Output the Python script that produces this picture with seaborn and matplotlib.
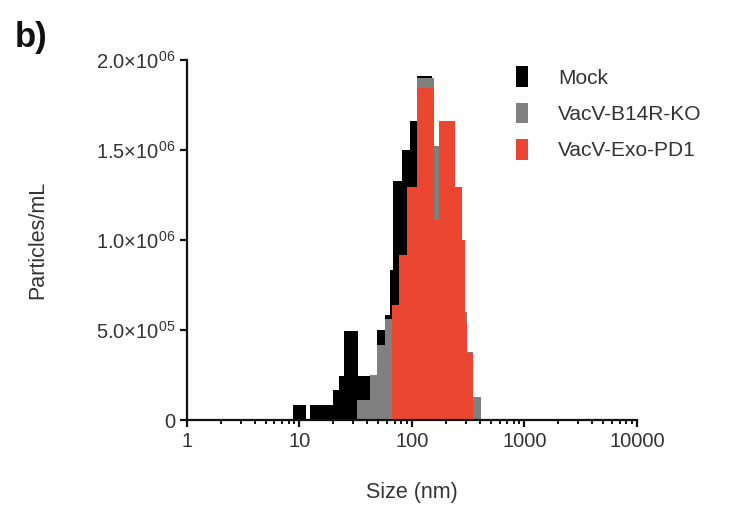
import numpy as np
import seaborn as sns
import matplotlib.pyplot as plt
from matplotlib.patches import Patch
from matplotlib.ticker import FixedLocator, FixedFormatter, LogLocator, NullFormatter

# particle size histograms (bin edges in nm, particles/mL per bin)
mock_edges = [8.8, 11.5, 12.45, 20.0, 22.6, 25.0, 33.3, 42.6, 49.2, 58.0, 64.2,
              68.3, 82.0, 97.0, 112.0, 152.0, 175.0, 243.0, 281.0, 311.0, 352.0]
mock_counts = [83e3, 0, 83e3, 167e3, 244e3, 496e3, 244e3, 244e3, 500e3, 583e3,
               833e3, 1.33e6, 1.5e6, 1.66e6, 1.91e6, 1.45e6, 1.3e6, 0.9e6, 0.5e6, 0.2e6]

ko_edges = [32.4, 42.6, 49.2, 58.0, 66.5, 76.5, 91.0, 111.7, 158.0, 175.0,
            243.0, 281.0, 299.0, 311.0, 352.0, 407.0]
ko_counts = [110e3, 250e3, 420e3, 560e3, 620e3, 900e3, 1.25e6, 1.9e6, 1.52e6,
             1.55e6, 1.2e6, 1.0e6, 0.6e6, 0.38e6, 130e3]

pd1_edges = [66.5, 76.5, 91.0, 111.7, 158.0, 175.0, 243.0, 281.0, 299.0, 311.0, 352.0]
pd1_counts = [640e3, 917e3, 1.296e6, 1.843e6, 1.11e6, 1.66e6, 1.296e6, 1.0e6, 546e3, 372e3]

labels = ["Mock", "VacV-B14R-KO", "VacV-Exo-PD1"]
colors = ["#000000", "#808080", "#EB4631"]

y_ticks = [0, 5e5, 1e6, 1.5e6, 2e6]
y_ticklabels = ["0", "5.0\u00d710$^{\\mathregular{05}}$", "1.0\u00d710$^{\\mathregular{06}}$",
                "1.5\u00d710$^{\\mathregular{06}}$", "2.0\u00d710$^{\\mathregular{06}}$"]
x_ticks = [1, 10, 100, 1000, 10000]
x_ticklabels = ["1", "10", "100", "1000", "10000"]

sns.set_style("ticks")
plt.rcParams['font.family'] = ['Liberation Sans', 'DejaVu Sans']
plt.rcParams['mathtext.fontset'] = 'custom'
plt.rcParams['mathtext.rm'] = 'Liberation Sans'
plt.rcParams['mathtext.it'] = 'Liberation Sans:italic'
plt.rcParams['mathtext.bf'] = 'Liberation Sans:bold'

fig = plt.figure(figsize=(7.33, 5.13), dpi=100)
ax = fig.add_axes([0.255, 0.181, 0.614, 0.702])

series = [(mock_edges, mock_counts), (ko_edges, ko_counts), (pd1_edges, pd1_counts)]
for (edges, counts), col in zip(series, colors):
    log_edges = np.log10(edges)
    centers = 10 ** ((log_edges[:-1] + log_edges[1:]) / 2)
    # seaborn wants log-space edges as a plain list when log_scale=True
    sns.histplot(x=centers, weights=counts, bins=log_edges.tolist(), log_scale=True,
                 element="step", fill=True, color=col, alpha=1, linewidth=0, ax=ax)

ax.set_xscale("log")
ax.set_xlim(1, 10000)
ax.set_ylim(0, 2e6)
ax.xaxis.set_major_locator(FixedLocator(x_ticks))
ax.xaxis.set_major_formatter(FixedFormatter(x_ticklabels))
ax.xaxis.set_minor_locator(LogLocator(base=10, subs=np.arange(2, 10)))
ax.xaxis.set_minor_formatter(NullFormatter())
ax.yaxis.set_major_locator(FixedLocator(y_ticks))
ax.yaxis.set_major_formatter(FixedFormatter(y_ticklabels))

sns.despine(ax=ax)
for s in ["left", "bottom"]:
    ax.spines[s].set_linewidth(1.6)
    ax.spines[s].set_color("#111111")
ax.tick_params(which="major", length=5, width=1.6, labelsize=14.5, colors="#111111",
               labelcolor="#333333")
ax.tick_params(which="minor", length=3, width=1.4, colors="#111111")

ax.set_xlabel("Size (nm)", fontsize=15.5, color="#333333", labelpad=22)
ax.set_ylabel("Particles/mL", fontsize=15.5, color="#333333", labelpad=34)

handles = [Patch(facecolor=c, edgecolor="none") for c in colors]
ax.legend(handles, labels, loc="upper left", bbox_to_anchor=(0.69, 1.035), frameon=False,
          fontsize=15, handlelength=0.55, handleheight=1.15, handletextpad=1.45,
          labelspacing=0.72, labelcolor="#333333")

fig.text(0.02, 0.908, "b)", fontsize=25, fontweight="bold", color="#111111")

plt.savefig("out.png", dpi=100)
